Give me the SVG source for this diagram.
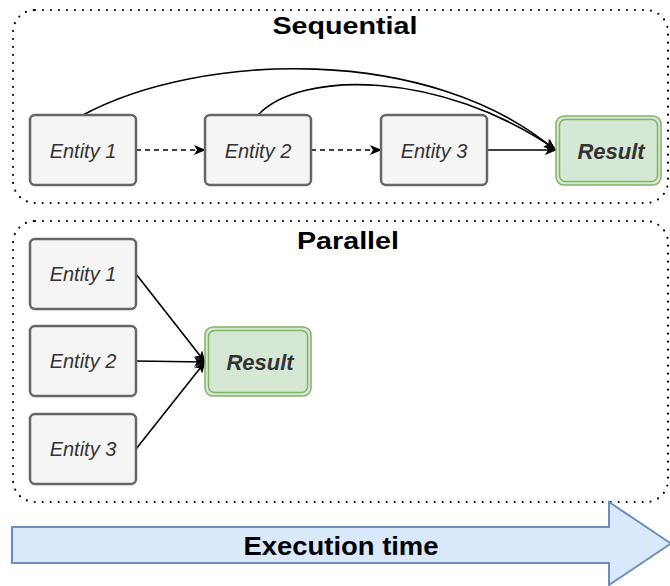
<svg xmlns="http://www.w3.org/2000/svg" width="670" height="586" viewBox="0 0 670 586">
  <defs>
    <marker id="arrow" viewBox="0 0 12 10" refX="11" refY="5" markerWidth="12" markerHeight="10" markerUnits="userSpaceOnUse" orient="auto">
      <path d="M0,0 L12,5 L0,10 L3,5 z" fill="#000"/>
    </marker>
  </defs>
  <style>
    .frame { fill: none; stroke: #000; stroke-width: 2.2; stroke-dasharray: 0 8; stroke-linecap: round; }
    .title { font-family: "Liberation Sans", Arial, sans-serif; font-weight: bold; font-size: 23px; fill: #000; text-anchor: middle; }
    .entity rect { fill: #f5f5f5; stroke: #666666; stroke-width: 2.5; }
    .entity text { font-family: "Liberation Sans", Arial, sans-serif; font-style: italic; font-size: 20px; fill: #333333; text-anchor: middle; }
    .result rect { fill: #d5e8d4; stroke: #82b366; stroke-width: 1.5; }
    .result text { font-family: "Liberation Sans", Arial, sans-serif; font-style: italic; font-weight: bold; font-size: 22px; fill: #333333; text-anchor: middle; }
    .edge { fill: none; stroke: #000; stroke-width: 1.6; marker-end: url(#arrow); }
    .dashed { stroke-dasharray: 5 4; }
    .timeline polygon { fill: #dae8fc; stroke: #6c8ebf; stroke-width: 2; }
    .timeline text { font-family: "Liberation Sans", Arial, sans-serif; font-weight: bold; font-size: 26px; fill: #000; text-anchor: middle; }
  </style>

  <!-- group frames -->
  <g id="sequential-frame">
    <rect class="frame" x="13" y="10" width="655" height="193" rx="22" ry="22"/>
    <text class="title" x="345" y="34" textLength="145" lengthAdjust="spacingAndGlyphs">Sequential</text>
  </g>
  <g id="parallel-frame">
    <rect class="frame" x="13" y="221" width="655" height="281" rx="22" ry="22"/>
    <text class="title" x="348" y="249" textLength="102" lengthAdjust="spacingAndGlyphs">Parallel</text>
  </g>

  <!-- connectors -->
  <g id="connectors">
    <path class="edge dashed" d="M136,150 L205,150"/>
    <path class="edge dashed" d="M311,150 L381,150"/>
    <path class="edge" d="M486,150 L556,150"/>
    <path class="edge" d="M83,115 C200,52 430,44 555,150"/>
    <path class="edge" d="M258,115 C300,70 440,70 555,149"/>
    <path class="edge" d="M136,274 L205,362"/>
    <path class="edge" d="M136,361 L205,362"/>
    <path class="edge" d="M136,449 L205,362"/>
  </g>

  <!-- sequential nodes -->
  <g id="seq-entity-1" class="entity">
    <rect x="30" y="115" width="106" height="70" rx="5"/>
    <text x="83" y="158">Entity 1</text>
  </g>
  <g id="seq-entity-2" class="entity">
    <rect x="205" y="115" width="106" height="70" rx="5"/>
    <text x="258" y="158">Entity 2</text>
  </g>
  <g id="seq-entity-3" class="entity">
    <rect x="381" y="115" width="106" height="70" rx="5"/>
    <text x="434" y="158">Entity 3</text>
  </g>
  <g id="seq-result" class="result">
    <rect x="556" y="116" width="105" height="69" rx="8"/>
    <rect x="559.5" y="119.5" width="98" height="62" rx="6"/>
    <text x="611" y="159">Result</text>
  </g>

  <!-- parallel nodes -->
  <g id="par-entity-1" class="entity">
    <rect x="30" y="239" width="106" height="70" rx="5"/>
    <text x="83" y="281">Entity 1</text>
  </g>
  <g id="par-entity-2" class="entity">
    <rect x="30" y="326" width="106" height="70" rx="5"/>
    <text x="83" y="368">Entity 2</text>
  </g>
  <g id="par-entity-3" class="entity">
    <rect x="30" y="414" width="106" height="70" rx="5"/>
    <text x="83" y="456">Entity 3</text>
  </g>
  <g id="par-result" class="result">
    <rect x="205" y="327" width="106" height="69" rx="8"/>
    <rect x="208.5" y="330.5" width="99" height="62" rx="6"/>
    <text x="260" y="370">Result</text>
  </g>

  <!-- time axis -->
  <g id="execution-time" class="timeline">
    <polygon points="12,527 609,527 609,502 671,543.5 609,585 609,563 12,563"/>
    <text x="341" y="555" textLength="195" lengthAdjust="spacingAndGlyphs">Execution time</text>
  </g>
</svg>
